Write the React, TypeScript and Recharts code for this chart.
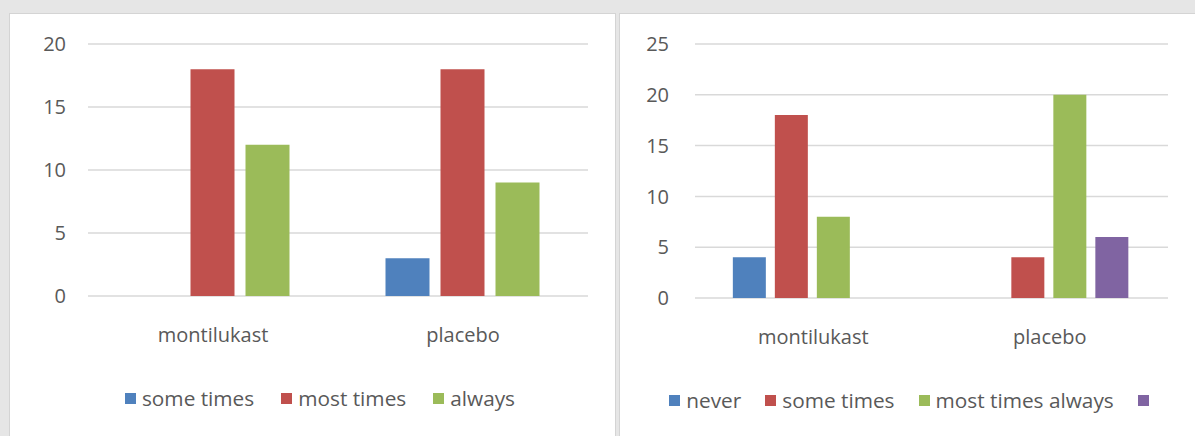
import React from "react";
import { BarChart, Bar, XAxis, YAxis, CartesianGrid, Legend } from "recharts";

const categories = ["montilukast", "placebo"];

// Left chart
const leftSomeTimes = [0, 3];
const leftMostTimes = [18, 18];
const leftAlways = [12, 9];
const leftTicks = [0, 5, 10, 15, 20];

// Right chart
const rightNever = [4, 0];
const rightSomeTimes = [18, 4];
const rightMostTimesAlways = [8, 20];
const rightUnlabeled = [0, 6];
const rightTicks = [0, 5, 10, 15, 20, 25];

const BLUE = "#4F81BD";
const RED = "#C0504D";
const GREEN = "#9BBB59";
const PURPLE = "#8064A2";
const TEXT = "#595959";
const GRID = "#d9d9d9";
const FONT = "'Open Sans', sans-serif";

const leftData = categories.map((c, i) => ({
  name: c,
  s: leftSomeTimes[i],
  m: leftMostTimes[i],
  a: leftAlways[i],
}));

const rightData = categories.map((c, i) => ({
  name: c,
  n: rightNever[i],
  s: rightSomeTimes[i],
  ma: rightMostTimesAlways[i],
  u: rightUnlabeled[i],
}));

const leftOrder = ["s", "m", "a"];
const rightOrder = ["n", "s", "ma", "u"];

const makeLegend = (shift: number, order: string[], gap: number) => (props: any) => {
  const raw = props.payload || [];
  const payload = [...raw].sort(
    (a: any, b: any) => order.indexOf(a.dataKey) - order.indexOf(b.dataKey)
  );
  return (
    <div
      style={{
        display: "flex",
        justifyContent: "center",
        alignItems: "center",
        height: 30,
        paddingLeft: shift,
        fontFamily: FONT,
        fontSize: 20.8,
        color: TEXT,
      }}
    >
      {payload.map((p: any, i: number) => (
        <div
          key={i}
          style={{
            display: "flex",
            alignItems: "center",
            marginRight: i === payload.length - 1 ? 0 : gap,
          }}
        >
          <span
            style={{
              display: "inline-block",
              width: 11,
              height: 11,
              background: p.color,
              marginRight: p.value && p.value.trim() ? 6 : 0,
            }}
          />
          {p.value && p.value.trim() ? <span style={{ lineHeight: "30px" }}>{p.value}</span> : null}
        </div>
      ))}
    </div>
  );
};

const tickStyle = { fill: TEXT, fontSize: 20, fontFamily: FONT };

export default function App() {
  return (
    <div
      style={{
        position: "absolute",
        left: 0,
        top: 0,
        width: 1195,
        height: 436,
        background: "#e6e6e6",
        overflow: "hidden",
      }}
    >
      <div
        style={{
          position: "absolute",
          left: 9,
          top: 13,
          width: 605,
          height: 440,
          background: "#fff",
          border: "1px solid #d4d4d4",
        }}
      />
      <div
        style={{
          position: "absolute",
          left: 619,
          top: 13,
          width: 590,
          height: 440,
          background: "#fff",
          border: "1px solid #d4d4d4",
        }}
      />
      <div style={{ position: "absolute", left: 10, top: 14 }}>
        <BarChart
          width={604}
          height={422}
          data={leftData}
          margin={{ top: 30, right: 26, left: 0, bottom: 23 }}
          barGap={11}
          barCategoryGap="19%"
        >
          <CartesianGrid horizontal vertical={false} stroke={GRID} strokeWidth={1.5} />
          <XAxis
            dataKey="name"
            axisLine={false}
            tickLine={false}
            tickSize={0}
            tickMargin={32}
            height={87}
            tick={tickStyle}
          />
          <YAxis
            domain={[0, 20]}
            ticks={leftTicks}
            axisLine={false}
            tickLine={false}
            tickSize={0}
            tickMargin={22}
            width={78}
            tick={tickStyle}
          />
          <Legend verticalAlign="bottom" content={makeLegend(42, leftOrder, 27)} />
          <Bar dataKey="s" name="some times" fill={BLUE} isAnimationActive={false} />
          <Bar dataKey="m" name="most times" fill={RED} isAnimationActive={false} />
          <Bar dataKey="a" name="always" fill={GREEN} isAnimationActive={false} />
        </BarChart>
      </div>
      <div style={{ position: "absolute", left: 620, top: 14 }}>
        <BarChart
          width={575}
          height={422}
          data={rightData}
          margin={{ top: 30, right: 27, left: 0, bottom: 21 }}
          barGap={9}
          barCategoryGap="16%"
        >
          <CartesianGrid horizontal vertical={false} stroke={GRID} strokeWidth={1.5} />
          <XAxis
            dataKey="name"
            axisLine={false}
            tickLine={false}
            tickSize={0}
            tickMargin={32}
            height={87}
            tick={tickStyle}
          />
          <YAxis
            domain={[0, 25]}
            ticks={rightTicks}
            axisLine={false}
            tickLine={false}
            tickSize={0}
            tickMargin={26}
            width={75}
            tick={tickStyle}
          />
          <Legend verticalAlign="bottom" content={makeLegend(30, rightOrder, 24)} />
          <Bar dataKey="n" name="never" fill={BLUE} isAnimationActive={false} />
          <Bar dataKey="s" name="some times" fill={RED} isAnimationActive={false} />
          <Bar dataKey="ma" name="most times always" fill={GREEN} isAnimationActive={false} />
          <Bar dataKey="u" name=" " fill={PURPLE} isAnimationActive={false} />
        </BarChart>
      </div>
    </div>
  );
}
